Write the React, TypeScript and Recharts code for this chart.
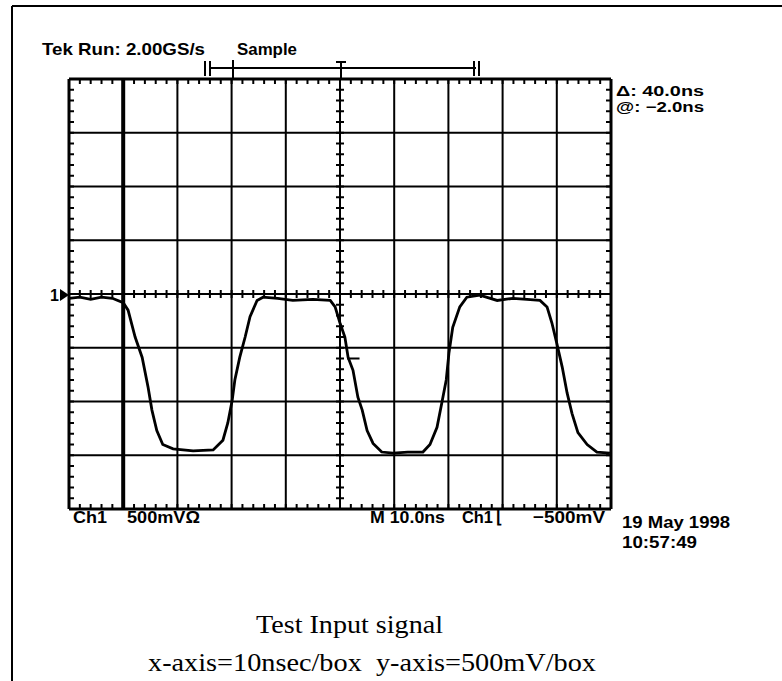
import React from "react";
import {
  ComposedChart,
  Line,
  Scatter,
  XAxis,
  YAxis,
  ReferenceLine,
} from "recharts";

// time in ns (10 ns per box), volts (500 mV per box, ground at centre line)
const times = [
  0, 2, 4, 6, 8, 10.0, 10.9, 12.2, 13.5, 14.6, 15.3, 16.2, 17.3, 19.2, 22.9,
  26.6, 28.4, 29.3, 30.1, 30.6, 31.5, 32.5, 33.4, 34.7, 35.8, 38.5, 41.3, 45.0,
  48.2, 49.1, 50.0, 50.9, 51.5, 52.4, 53.3, 54.1, 55.0, 56.1, 57.7, 59.8, 62.5,
  65.3, 66.6, 67.9, 68.8, 69.6, 70.1, 70.8, 72.1, 73.4, 75.8, 79.0, 81.9, 84.5,
  86.9, 88.2, 89.1, 90.0, 91.0, 91.9, 92.8, 93.9, 95.6, 97.4, 99.8,
];
const volts = [
  -0.04, -0.03, -0.05, -0.03, -0.04, -0.08, -0.15, -0.4, -0.59, -0.87, -1.08,
  -1.27, -1.4, -1.44, -1.46, -1.45, -1.36, -1.2, -0.99, -0.8, -0.59, -0.4,
  -0.21, -0.06, -0.03, -0.04, -0.06, -0.05, -0.06, -0.12, -0.27, -0.4, -0.59,
  -0.71, -0.96, -1.08, -1.27, -1.39, -1.47, -1.48, -1.47, -1.47, -1.4, -1.24,
  -1.01, -0.8, -0.55, -0.31, -0.12, -0.03, -0.01, -0.06, -0.04, -0.05, -0.06,
  -0.12, -0.27, -0.46, -0.68, -0.92, -1.11, -1.29, -1.4, -1.47, -1.48,
];

const gridTimes = [0, 10, 20, 30, 40, 50, 60, 70, 80, 90, 100];
const gridVolts = [-2, -1.5, -1, -0.5, 0, 0.5, 1, 1.5, 2];
const cursorTime = 10;
const triggerLevel = -0.6;

// minor graticule marks, 5 per box
const minorTimes = Array.from({ length: 51 }, (_, i) => i * 2);
const minorVolts = Array.from({ length: 41 }, (_, i) => -2 + i * 0.1);

const signal = times.map((t, i) => ({ t, v: volts[i] }));
const topMarks = minorTimes.map((t) => ({ t, v: 2 }));
const bottomMarks = minorTimes.map((t) => ({ t, v: -2 }));
const midHMarks = minorTimes.map((t) => ({ t, v: 0 }));
const leftMarks = minorVolts.map((v) => ({ t: 0, v }));
const rightMarks = minorVolts.map((v) => ({ t: 100, v }));
const midVMarks = minorVolts.map((v) => ({ t: 50, v }));

const ink = "#000";

const mark = (dx1: number, dy1: number, dx2: number, dy2: number) =>
  (p: any) => (
    <line
      x1={p.cx + dx1}
      y1={p.cy + dy1}
      x2={p.cx + dx2}
      y2={p.cy + dy2}
      stroke={ink}
      strokeWidth={2}
    />
  );

const scope = {
  fontFamily: "'Liberation Sans', Arial, sans-serif",
  fontWeight: 700,
  fill: ink,
  lengthAdjust: "spacingAndGlyphs",
} as const;

const caption = {
  fontFamily: "'Liberation Serif', 'Times New Roman', serif",
  fill: ink,
  fontSize: 26,
  lengthAdjust: "spacingAndGlyphs",
  style: { whiteSpace: "pre" as const },
};

export default function App() {
  return (
    <div
      style={{
        position: "absolute",
        left: 0,
        top: 0,
        width: 782,
        height: 681,
        background: "#fff",
      }}
    >
      <ComposedChart
        width={782}
        height={681}
        margin={{ top: 79, right: 171, bottom: 172, left: 69 }}
      >
        <XAxis dataKey="t" type="number" domain={[0, 100]} hide allowDataOverflow />
        <YAxis dataKey="v" type="number" domain={[-2, 2]} hide allowDataOverflow />
        {gridTimes.map((t) => (
          <ReferenceLine
            key={"gx" + t}
            x={t}
            stroke={ink}
            strokeWidth={t === cursorTime ? 4 : t === 0 || t === 100 ? 3 : 2}
            ifOverflow="visible"
          />
        ))}
        {gridVolts.map((v) => (
          <ReferenceLine
            key={"gy" + v}
            y={v}
            stroke={ink}
            strokeWidth={v === 2 || v === -2 ? 3 : 2}
            ifOverflow="visible"
          />
        ))}
        <Scatter data={topMarks} shape={mark(0, 0, 0, 5)} isAnimationActive={false} />
        <Scatter data={bottomMarks} shape={mark(0, 0, 0, -5)} isAnimationActive={false} />
        <Scatter data={midHMarks} shape={mark(0, -4, 0, 4)} isAnimationActive={false} />
        <Scatter data={leftMarks} shape={mark(0, 0, 5, 0)} isAnimationActive={false} />
        <Scatter data={rightMarks} shape={mark(0, 0, -5, 0)} isAnimationActive={false} />
        <Scatter data={midVMarks} shape={mark(-4, 0, 4, 0)} isAnimationActive={false} />
        <ReferenceLine
          segment={[
            { x: 51.3, y: triggerLevel },
            { x: 53.6, y: triggerLevel },
          ]}
          stroke={ink}
          strokeWidth={2}
        />
        <Line
          data={signal}
          dataKey="v"
          type="linear"
          stroke={ink}
          strokeWidth={2.8}
          dot={false}
          isAnimationActive={false}
        />
      </ComposedChart>

      <svg
        width={782}
        height={681}
        style={{ position: "absolute", left: 0, top: 0, pointerEvents: "none" }}
      >
        {/* page frame */}
        <line x1={12} y1={6} x2={782} y2={6} stroke={ink} strokeWidth={2} />
        <line x1={12} y1={6} x2={12} y2={681} stroke={ink} strokeWidth={2} />

        <text x={42} y={55} fontSize={17} textLength={163} {...scope}>
          Tek Run: 2.00GS/s
        </text>
        <text x={237} y={55} fontSize={17} textLength={60} {...scope}>
          Sample
        </text>

        {/* record bracket */}
        <line x1={211} y1={68} x2={476} y2={68} stroke={ink} strokeWidth={2} />
        <line x1={205} y1={61} x2={205} y2={76} stroke={ink} strokeWidth={2} />
        <line x1={210} y1={61} x2={210} y2={76} stroke={ink} strokeWidth={2} />
        <line x1={233} y1={60} x2={233} y2={80} stroke={ink} strokeWidth={2} />
        <line x1={341} y1={62} x2={341} y2={80} stroke={ink} strokeWidth={2} />
        <line x1={336} y1={62} x2={346} y2={62} stroke={ink} strokeWidth={2} />
        <line x1={474} y1={61} x2={474} y2={76} stroke={ink} strokeWidth={2} />
        <line x1={479} y1={61} x2={479} y2={76} stroke={ink} strokeWidth={2} />

        <text x={616} y={96} fontSize={14} textLength={88} {...scope}>
          Δ: 40.0ns
        </text>
        <text x={616} y={112} fontSize={14} textLength={88} {...scope}>
          @: −2.0ns
        </text>

        {/* ground marker */}
        <text x={50} y={301} fontSize={16} {...scope}>
          1
        </text>
        <polygon points="60,289 69,295 60,301" fill={ink} />

        <text x={73} y={523} fontSize={17} textLength={34} {...scope}>
          Ch1
        </text>
        <text x={127} y={523} fontSize={17} textLength={73} {...scope}>
          500mVΩ
        </text>
        <text x={370} y={523} fontSize={17} textLength={75} {...scope}>
          M 10.0ns
        </text>
        <text x={462} y={523} fontSize={17} textLength={31} {...scope}>
          Ch1
        </text>
        <text x={496} y={523} fontSize={17} {...scope}>
          ⌊
        </text>
        <text x={533} y={523} fontSize={17} textLength={72} {...scope}>
          −500mV
        </text>
        <text x={622} y={528} fontSize={17} textLength={108} {...scope}>
          19 May 1998
        </text>
        <text x={622} y={548} fontSize={17} textLength={75} {...scope}>
          10:57:49
        </text>

        <text x={256} y={633} textLength={187} {...caption}>
          Test Input signal
        </text>
        <text x={148} y={671} textLength={448} {...caption}>
          {"x-axis=10nsec/box  y-axis=500mV/box"}
        </text>
      </svg>
    </div>
  );
}
